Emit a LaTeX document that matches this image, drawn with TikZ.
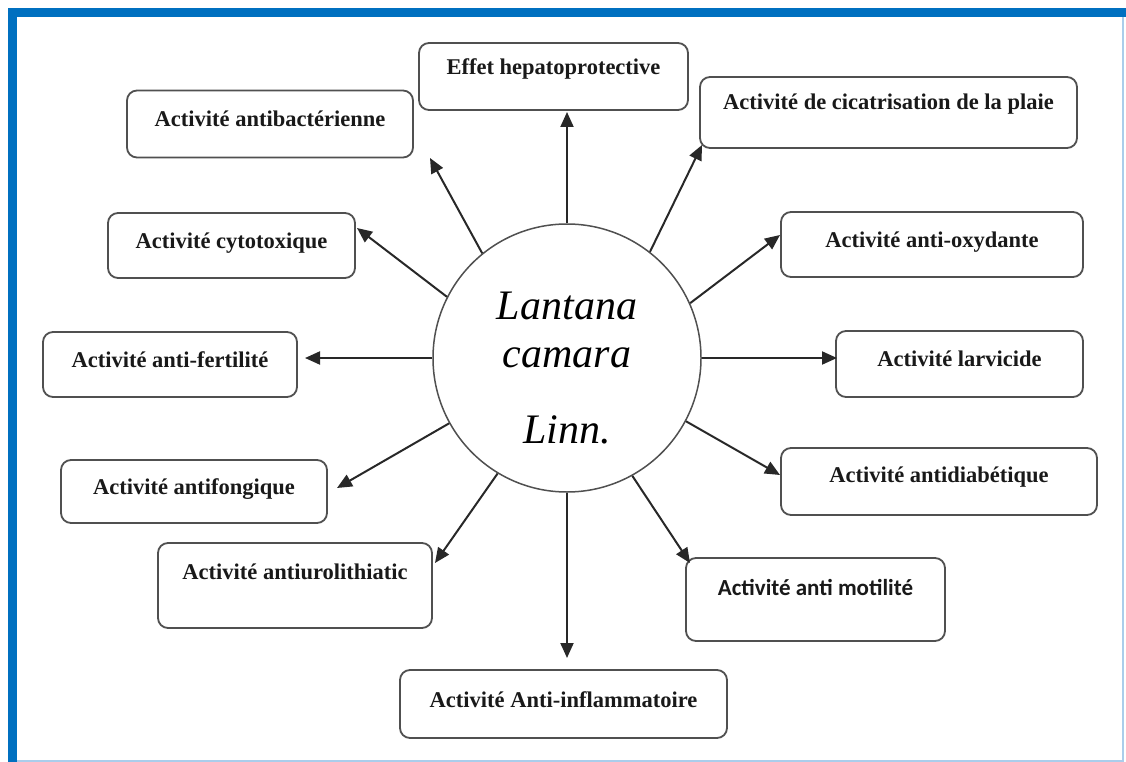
\documentclass[tikz,border=0pt]{standalone}
\usepackage{fontspec}
\setmainfont{Liberation Serif}
\newfontfamily\calibrifont{Carlito}
\usepackage{tikz}
\usetikzlibrary{arrows.meta, shapes, positioning}
\usepackage{xcolor}
\definecolor{frameblue}{RGB}{0,112,192}
\definecolor{framelight}{RGB}{170,205,235}
\definecolor{boxgray}{RGB}{80,80,80}
\definecolor{arrowgray}{RGB}{40,40,40}
\tikzset{activitynode/.style={rectangle, rounded corners=10pt, draw=boxgray, line width=1.8pt, fill=white, inner sep=0pt,
    text=black!90, font=\fontsize{22.5}{27}\selectfont\bfseries, text height=16pt},
plantcircle/.style={circle, draw=boxgray, line width=1.5pt, fill=white, minimum size=268pt, inner sep=0pt}}

\begin{document}
\begin{tikzpicture}[
        x=1pt, y=-1pt,
        plantname/.style={align=center, inner sep=0pt, text=black, font=\fontsize{42}{48}\selectfont\itshape},
        arrowline/.style={draw=arrowgray, line width=2pt, -{Triangle[length=15pt, width=13pt]}}
    ]
        \useasboundingbox (0,0) rectangle (1126,762);
        % Frame
        \fill[frameblue] (8,8) rectangle (1126,17);
        \fill[frameblue] (8,8) rectangle (17,762);
        \draw[framelight, line width=1.2pt] (1123,17) -- (1123,761) -- (17,761);
        % Centre
        \node[plantcircle] (plant) at (567,358) {};
        \node[plantname] (plantname) at (567,368) {Lantana\\camara\\[28pt]Linn.};
        % Activities
        \node[activitynode, minimum width=269pt, minimum height=67pt, text depth=19pt] (hepato) at (553.5,76.5) {Effet hepatoprotective};
        \node[activitynode, minimum width=286pt, minimum height=67pt, text depth=11pt] (antibac) at (270,124) {Activité antibactérienne};
        \node[activitynode, minimum width=377pt, minimum height=71pt, text depth=22pt] (cicatri) at (888.5,112.5) {Activité de cicatrisation de la plaie};
        \node[activitynode, minimum width=247pt, minimum height=65pt, text depth=11pt] (cytotox) at (231.5,245.5) {Activité cytotoxique};
        \node[activitynode, minimum width=302pt, minimum height=65pt, text depth=11pt] (antioxy) at (932,244.5) {Activité anti-oxydante};
        \node[activitynode, minimum width=254pt, minimum height=65pt, text depth=11pt] (antifert) at (170,364.5) {Activité anti-fertilité};
        \node[activitynode, minimum width=247pt, minimum height=66pt, text depth=11pt] (larvicide) at (959.5,364) {Activité larvicide};
        \node[activitynode, minimum width=266pt, minimum height=63pt, text depth=11pt] (antifong) at (194,491.5) {Activité antifongique};
        \node[activitynode, minimum width=316pt, minimum height=67pt, text depth=15pt] (antidiab) at (939,481.5) {Activité antidiabétique};
        \node[activitynode, minimum width=274pt, minimum height=85pt, text depth=29pt] (antiuro) at (295,585.5) {Activité antiurolithiatic};
        \node[activitynode, minimum width=259pt, minimum height=83pt, text depth=25pt, font=\fontsize{23}{27}\calibrifont\bfseries] (motilite) at (815.5,599.5) {Activité anti motilité};
        \node[activitynode, minimum width=327pt, minimum height=68pt, text depth=9pt] (antiinfl) at (563.5,704) {Activité Anti-inflammatoire};
        % Arrow tips
        \coordinate (tiphepato) at (567,112);
        \coordinate (tipantibac) at (430,158);
        \coordinate (tipcicatri) at (702,145);
        \coordinate (tipcytotox) at (357,228);
        \coordinate (tipantioxy) at (780,235);
        \coordinate (tipantifert) at (305,358);
        \coordinate (tiplarvicide) at (837,358);
        \coordinate (tipantifong) at (337,488);
        \coordinate (tipantidiab) at (780,475);
        \coordinate (tipantiuro) at (435,563);
        \coordinate (tipmotilite) at (690,563);
        \coordinate (tipantiinfl) at (567,658);
        % Arrows
        \foreach \angle/\tip in {
            90/hepato,
            129/antibac,
            52/cicatri,
            153/cytotox,
            24/antioxy,
            180/antifert,
            0/larvicide,
            209/antifong,
            332/antidiab,
            239/antiuro,
            299/motilite,
            270/antiinfl} {
            \draw[arrowline] (plant.\angle) -- (tip\tip);
        }
    \end{tikzpicture}
\end{document}
